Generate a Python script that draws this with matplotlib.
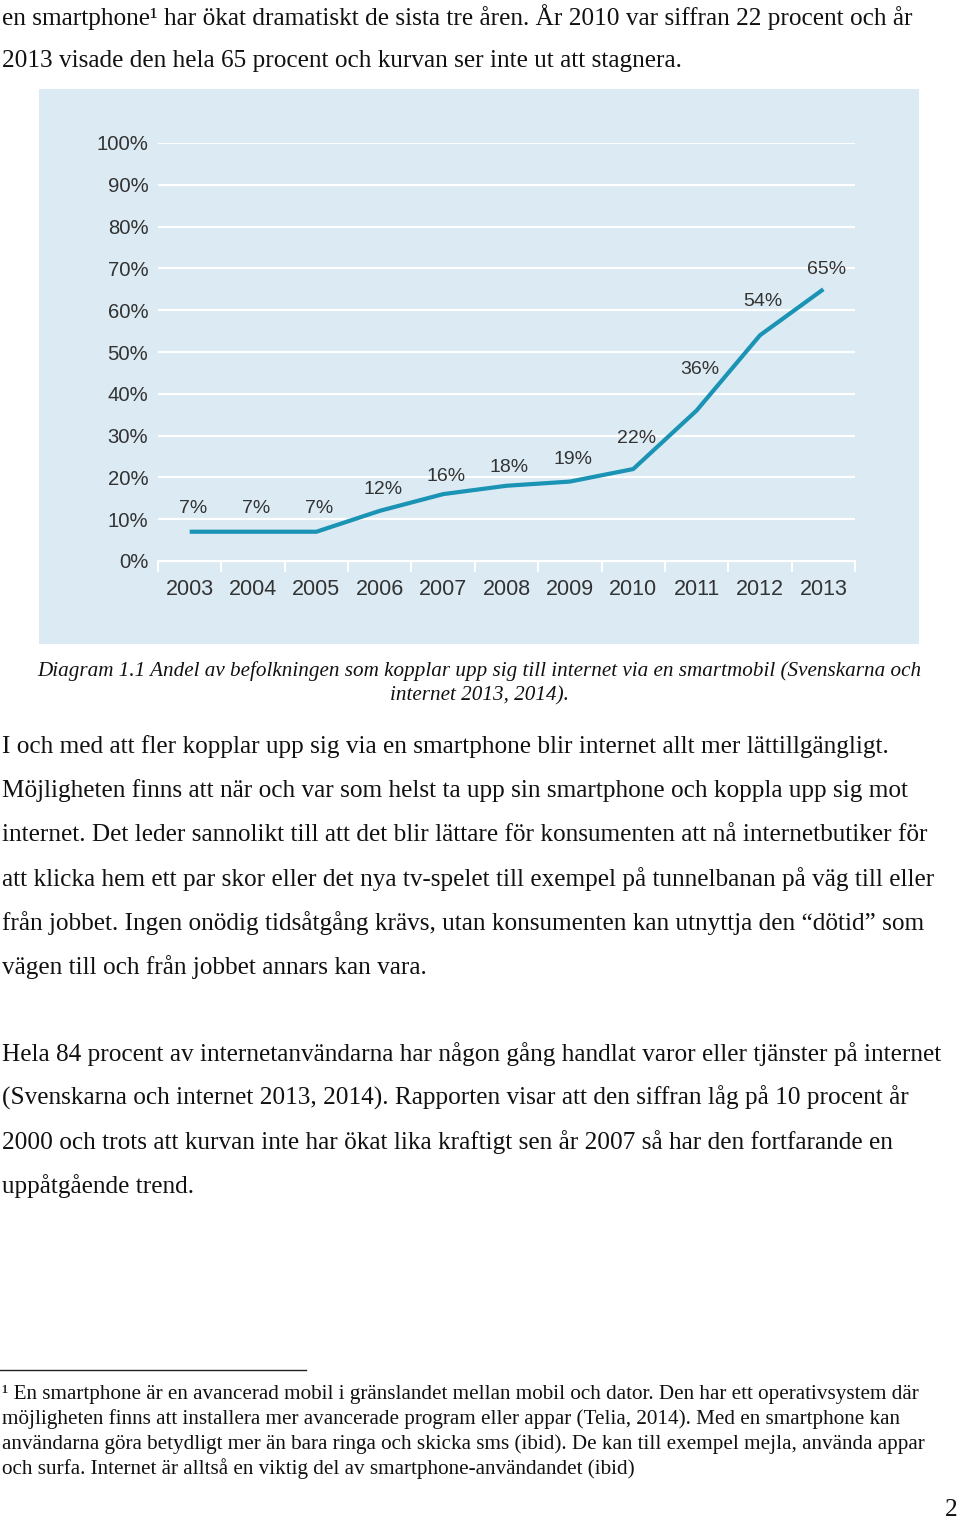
import matplotlib.pyplot as plt
from matplotlib.patches import Rectangle

# data
years = ['2003', '2004', '2005', '2006', '2007', '2008', '2009', '2010', '2011', '2012', '2013']
share = [7, 7, 7, 12, 16, 18, 19, 22, 36, 54, 65]
yticks = [0, 10, 20, 30, 40, 50, 60, 70, 80, 90, 100]

text_top = [
    'en smartphone\u00b9 har ökat dramatiskt de sista tre åren. År 2010 var siffran 22 procent och år',
    '2013 visade den hela 65 procent och kurvan ser inte ut att stagnera.',
]
caption = [
    'Diagram 1.1 Andel av befolkningen som kopplar upp sig till internet via en smartmobil (Svenskarna och',
    'internet 2013, 2014).',
]
para1 = [
    'I och med att fler kopplar upp sig via en smartphone blir internet allt mer lättillgängligt.',
    'Möjligheten finns att när och var som helst ta upp sin smartphone och koppla upp sig mot',
    'internet. Det leder sannolikt till att det blir lättare för konsumenten att nå internetbutiker för',
    'att klicka hem ett par skor eller det nya tv-spelet till exempel på tunnelbanan på väg till eller',
    'från jobbet. Ingen onödig tidsåtgång krävs, utan konsumenten kan utnyttja den \u201cdötid\u201d som',
    'vägen till och från jobbet annars kan vara.',
]
para2 = [
    'Hela 84 procent av internetanvändarna har någon gång handlat varor eller tjänster på internet',
    '(Svenskarna och internet 2013, 2014). Rapporten visar att den siffran låg på 10 procent år',
    '2000 och trots att kurvan inte har ökat lika kraftigt sen år 2007 så har den fortfarande en',
    'uppåtgående trend.',
]
footnote = [
    '\u00b9 En smartphone är en avancerad mobil i gränslandet mellan mobil och dator. Den har ett operativsystem där',
    'möjligheten finns att installera mer avancerade program eller appar (Telia, 2014). Med en smartphone kan',
    'användarna göra betydligt mer än bara ringa och skicka sms (ibid). De kan till exempel mejla, använda appar',
    'och surfa. Internet är alltså en viktig del av smartphone-användandet (ibid)',
]

W, H = 960, 1521
fig = plt.figure(figsize=(W / 100, H / 100), dpi=100)
fig.patch.set_facecolor('white')


def fy(y):  # pixel från toppen -> figurkoordinat
    return 1 - y / H


serif = 'Liberation Serif'
body = 18.2
for i, line in enumerate(text_top):
    fig.text(2 / W, fy(17 + 44 * i), line, family=serif, fontsize=body, va='center', color='#111')
for i, line in enumerate(caption):
    fig.text(479 / W, fy(671 + 25 * i), line, family=serif, fontsize=15.2, style='italic',
             ha='center', va='center', color='#111')
for i, line in enumerate(para1):
    fig.text(2 / W, fy(747 + 44 * i), line, family=serif, fontsize=body, va='center', color='#111')
for i, line in enumerate(para2):
    fig.text(2 / W, fy(1054 + 44 * i), line, family=serif, fontsize=body, va='center', color='#111')
for i, line in enumerate(footnote):
    fig.text(2 / W, fy(1395 + 24.5 * i), line, family=serif, fontsize=15.2, va='center', color='#111')
fig.add_artist(plt.Line2D([0, 306 / W], [fy(1370), fy(1370)], color='#222', lw=1))
fig.text(957 / W, fy(1510), '2', family=serif, fontsize=body, ha='right', va='center', color='#111')

# blå bakgrund för diagrammet
fig.add_artist(Rectangle((39 / W, fy(644)), 880 / W, 555 / H, transform=fig.transFigure,
                         facecolor='#dbeaf3', edgecolor='none', zorder=0))

ax = fig.add_axes([158 / W, fy(561), 697 / W, 418 / H])
ax.set_facecolor('none')
x = list(range(len(years)))
ax.set_xlim(-0.5, len(years) - 0.5)
ax.set_ylim(0, 100)

for v in yticks[1:]:
    ax.axhline(v, color='white', lw=1.6, zorder=1)
ax.plot(x, share, color='#1b93b4', lw=3, solid_capstyle='butt', solid_joinstyle='round', zorder=3)

# etiketter ovanför punkterna
dy = [23, 23, 23, 21, 18, 18, 22, 31, 41, 34, 20]
for xi, v, d in zip(x, share, dy):
    ax.annotate(f'{v}%', (xi, v), xytext=(3, d), textcoords='offset pixels', ha='center', va='center',
                family='Liberation Sans', fontsize=14, color='#333333')

for s in ['top', 'right', 'left']:
    ax.spines[s].set_visible(False)
ax.spines['bottom'].set_color('white')
ax.spines['bottom'].set_linewidth(1.6)

ax.set_yticks(yticks)
ax.set_yticklabels([f'{v}%' for v in yticks], family='Liberation Sans', fontsize=14.6, color='#333333')
ax.tick_params(axis='y', length=0, pad=7)
ax.set_xticks(x)
ax.set_xticklabels(years, family='Liberation Sans', fontsize=15.5, color='#333333')
ax.tick_params(axis='x', which='major', length=0, pad=13)
ax.set_xticks([i - 0.5 for i in range(len(years) + 1)], minor=True)
ax.tick_params(axis='x', which='minor', length=8, width=1.5, color='white', direction='out')

fig.savefig('out.png', dpi=100)
